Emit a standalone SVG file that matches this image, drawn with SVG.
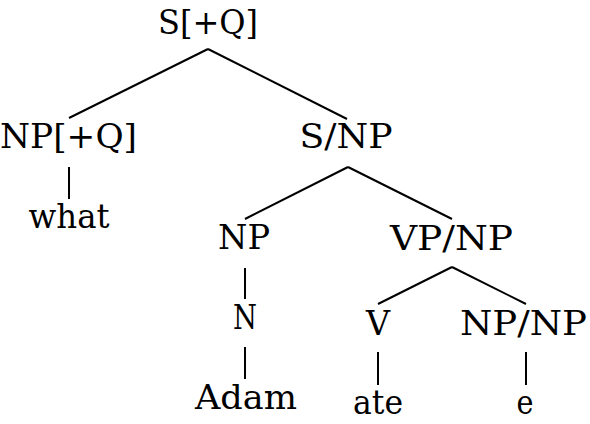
<svg xmlns="http://www.w3.org/2000/svg" width="590" height="424" viewBox="0 0 590 424">
<style>
text{font-family:"DejaVu Serif",serif;font-size:33px;fill:#000;text-anchor:middle}
.e line{stroke:#000;stroke-width:2;stroke-linecap:butt}
</style>
<rect width="590" height="424" fill="#fff"/>
<g class="e" id="edges">
<line x1="208" y1="49" x2="69" y2="118"/>
<line x1="208" y1="49" x2="347" y2="119"/>
<line x1="69" y1="167" x2="69" y2="199"/>
<line x1="348" y1="167" x2="245" y2="219"/>
<line x1="348" y1="167" x2="452" y2="219"/>
<line x1="245" y1="268" x2="245" y2="299"/>
<line x1="245" y1="347" x2="245" y2="379"/>
<line x1="452" y1="267" x2="378" y2="304"/>
<line x1="452" y1="267" x2="526" y2="304"/>
<line x1="378" y1="352" x2="378" y2="385"/>
<line x1="526" y1="352" x2="526" y2="385"/>
</g>
<g id="n-s"><text x="208" y="34" textLength="100" lengthAdjust="spacingAndGlyphs">S[+Q]</text></g>
<g id="n-npq"><text x="68.5" y="148" textLength="137" lengthAdjust="spacingAndGlyphs">NP[+Q]</text></g>
<g id="n-what"><text x="69" y="228" textLength="81" lengthAdjust="spacingAndGlyphs">what</text></g>
<g id="n-snp"><text x="346" y="148" textLength="93" lengthAdjust="spacingAndGlyphs">S/NP</text></g>
<g id="n-np"><text x="244" y="249" textLength="52" lengthAdjust="spacingAndGlyphs">NP</text></g>
<g id="n-n"><text x="245" y="329" textLength="24" lengthAdjust="spacingAndGlyphs">N</text></g>
<g id="n-adam"><text x="246" y="409" textLength="102" lengthAdjust="spacingAndGlyphs">Adam</text></g>
<g id="n-vpnp"><text x="451.5" y="250" textLength="123" lengthAdjust="spacingAndGlyphs">VP/NP</text></g>
<g id="n-v"><text x="378" y="335" textLength="24" lengthAdjust="spacingAndGlyphs">V</text></g>
<g id="n-npnp"><text x="523.5" y="335" textLength="127" lengthAdjust="spacingAndGlyphs">NP/NP</text></g>
<g id="n-ate"><text x="378" y="414" textLength="50" lengthAdjust="spacingAndGlyphs">ate</text></g>
<g id="n-e"><text x="525" y="414" textLength="17" lengthAdjust="spacingAndGlyphs">e</text></g>
</svg>
